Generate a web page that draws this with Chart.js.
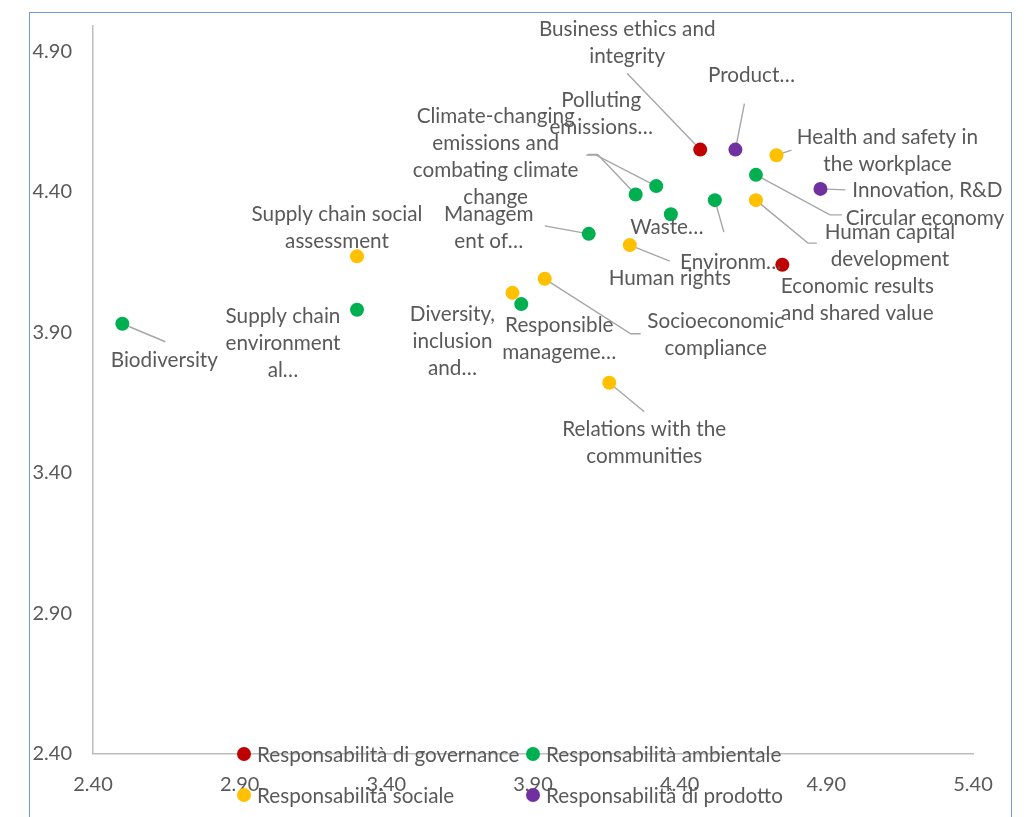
<!DOCTYPE html>
<html>
<head>
<meta charset="utf-8">
<script src="https://cdn.jsdelivr.net/npm/chart.js@4.4.1/dist/chart.umd.min.js"></script>
<style>
  html, body { margin: 0; padding: 0; background: #ffffff; }
  #wrap { position: relative; width: 1028px; height: 817px; overflow: hidden; }
  #c { position: absolute; left: 0; top: 0; }
  #frame { position: absolute; left: 29px; top: 12px; width: 983px; height: 840px;
           border: 1px solid #6f9bd2; box-sizing: border-box; pointer-events: none; }
</style>
</head>
<body>
<div id="wrap">
  <canvas id="c" width="1028" height="817"></canvas>
  <div id="frame"></div>
</div>
<script>
// ---- Series: topic names (line breaks as shown), x and y scores ----
const governanceNames = ['Business ethics and\nintegrity', 'Economic results\nand shared value'];
const governanceX = [4.47, 4.75];
const governanceY = [4.55, 4.14];

const environmentNames = [
  'Biodiversity', 'Supply chain\nenvironment\nal…', 'Responsible\nmanageme…', 'Managem\nent of…',
  'Climate-changing\nemissions and\ncombating climate\nchange', 'Polluting\nemissions…',
  'Waste…', 'Environm…', 'Circular economy'
];
const environmentX = [2.50, 3.30, 3.86, 4.09, 4.25, 4.32, 4.37, 4.52, 4.66];
const environmentY = [3.93, 3.98, 4.00, 4.25, 4.39, 4.42, 4.32, 4.37, 4.46];

const socialNames = [
  'Health and safety in\nthe workplace', 'Human capital\ndevelopment', 'Human rights',
  'Supply chain social\nassessment', 'Socioeconomic\ncompliance', 'Diversity,\ninclusion\nand…',
  'Relations with the\ncommunities'
];
const socialX = [4.73, 4.66, 4.23, 3.30, 3.94, 3.83, 4.16];
const socialY = [4.53, 4.37, 4.21, 4.17, 4.09, 4.04, 3.72];

const productNames = ['Product…', 'Innovation, R&D'];
const productX = [4.59, 4.88];
const productY = [4.55, 4.41];

const seriesLabels = ['Responsabilità di governance', 'Responsabilità ambientale',
                      'Responsabilità sociale', 'Responsabilità di prodotto'];

const xTicks = [2.40, 2.90, 3.40, 3.90, 4.40, 4.90, 5.40];
const yTicks = [2.40, 2.90, 3.40, 3.90, 4.40, 4.90];

// ---- Callout placement, in pixels relative to each marker ----
// text: centre of first line; leader: polyline from the marker outwards
const governanceCallouts = [
  { text: [-73, -120], leader: [[-73, -76]] },
  { text: [75, 22] }
];
const environmentCallouts = [
  { text: [42, 37], leader: [[43, 18]] },
  { text: [-74, 7] },
  { text: [38, 21] },
  { text: [-100, -20], leader: [[-22, -4], [-44, -8]] },
  { text: [-140, -78], leader: [[-38, -40], [-48, -40]] },
  { text: [-55, -86], leader: [[-60, -31], [-70, -31]] },
  { text: [-4, 13] },
  { text: [16, 62], leader: [[9, 32]] },
  { text: [169, 43], leader: [[74, 40], [86, 40]] }
];
const socialCallouts = [
  { text: [111, -18], leader: [[15, -5]] },
  { text: [134, 32], leader: [[52, 43], [61, 43]] },
  { text: [40, 33], leader: [[40, 16]] },
  { text: [-20, -42] },
  { text: [171, 43], leader: [[86, 55], [96, 55]] },
  { text: [-60, 21] },
  { text: [35, 47], leader: [[35, 29]] }
];
const productCallouts = [
  { text: [16, -74], leader: [[9, -46]] },
  { text: [107, 1], leader: [[25, 1]] }
];

const FONT = 'Lato';
const TEXT_COLOR = '#595959';
const LABEL_SIZE = 20.7;
const LINE_H = 27;

function points(xs, ys) { return xs.map((x, i) => ({ x: x, y: ys[i] })); }

const datasets = [
  { label: seriesLabels[0], data: points(governanceX, governanceY), names: governanceNames,
    callouts: governanceCallouts, backgroundColor: '#c00000' },
  { label: seriesLabels[1], data: points(environmentX, environmentY), names: environmentNames,
    callouts: environmentCallouts, backgroundColor: '#00b050' },
  { label: seriesLabels[2], data: points(socialX, socialY), names: socialNames,
    callouts: socialCallouts, backgroundColor: '#ffc000' },
  { label: seriesLabels[3], data: points(productX, productY), names: productNames,
    callouts: productCallouts, backgroundColor: '#7030a0' }
].map(d => Object.assign(d, { pointRadius: 7, pointHoverRadius: 7, borderWidth: 0 }));

// Leader lines under the markers, wrapped labels above them
const calloutPlugin = {
  id: 'callouts',
  beforeDatasetsDraw(chart) {
    const ctx = chart.ctx;
    ctx.save();
    ctx.strokeStyle = '#a6a6a6';
    ctx.lineWidth = 1.4;
    chart.data.datasets.forEach((ds, di) => {
      chart.getDatasetMeta(di).data.forEach((pt, i) => {
        const c = ds.callouts[i];
        if (!c || !c.leader) return;
        ctx.beginPath();
        ctx.moveTo(pt.x, pt.y);
        c.leader.forEach(p => ctx.lineTo(pt.x + p[0], pt.y + p[1]));
        ctx.stroke();
      });
    });
    ctx.restore();
  },
  afterDatasetsDraw(chart) {
    const ctx = chart.ctx;
    ctx.save();
    ctx.fillStyle = TEXT_COLOR;
    ctx.font = LABEL_SIZE + 'px ' + FONT;
    ctx.textAlign = 'center';
    ctx.textBaseline = 'middle';
    chart.data.datasets.forEach((ds, di) => {
      chart.getDatasetMeta(di).data.forEach((pt, i) => {
        const c = ds.callouts[i];
        const lines = ds.names[i].split('\n');
        lines.forEach((ln, k) => {
          ctx.fillText(ln, pt.x + c.text[0], pt.y + c.text[1] + k * LINE_H);
        });
      });
    });
    ctx.restore();
  }
};

// Two-row legend laid over the foot of the plot
const overlayLegend = {
  id: 'overlayLegend',
  afterDraw(chart) {
    const ctx = chart.ctx;
    const cols = [244, 533];
    const rows = [754, 795];
    ctx.save();
    ctx.font = LABEL_SIZE + 'px ' + FONT;
    ctx.textAlign = 'left';
    ctx.textBaseline = 'middle';
    chart.data.datasets.forEach((ds, i) => {
      const x = cols[i % 2], y = rows[Math.floor(i / 2)];
      ctx.fillStyle = ds.backgroundColor;
      ctx.beginPath();
      ctx.arc(x, y, 7, 0, Math.PI * 2);
      ctx.fill();
      ctx.fillStyle = TEXT_COLOR;
      ctx.fillText(ds.label, x + 13, y + 1);
    });
    ctx.restore();
  }
};

function build() {
  new Chart(document.getElementById('c'), {
    type: 'scatter',
    data: { datasets: datasets },
    plugins: [calloutPlugin, overlayLegend],
    options: {
      responsive: false,
      animation: false,
      devicePixelRatio: 1,
      layout: { padding: { left: 0, top: 26, right: 55, bottom: 0 } },
      plugins: { legend: { display: false }, tooltip: { enabled: false } },
      scales: {
        x: {
          type: 'linear', min: 2.4, max: 5.4,
          afterBuildTicks: axis => { axis.ticks = xTicks.map(v => ({ value: v })); },
          afterFit: axis => { axis.height = 63.5; axis.paddingLeft = 0; axis.paddingRight = 0; },
          grid: { display: false, drawTicks: false },
          border: { display: true, color: '#bdbdbd', width: 1.5 },
          ticks: { padding: 19, color: TEXT_COLOR, font: { family: FONT, size: 20 },
                   maxRotation: 0, autoSkip: false, callback: v => Number(v).toFixed(2) }
        },
        y: {
          type: 'linear', min: 2.4, max: 4.99,
          afterBuildTicks: axis => { axis.ticks = yTicks.map(v => ({ value: v })); },
          afterFit: axis => { axis.width = 93; axis.paddingTop = 0; axis.paddingBottom = 0; },
          grid: { display: false, drawTicks: false },
          border: { display: true, color: '#bdbdbd', width: 1.5 },
          ticks: { padding: 21, color: TEXT_COLOR, font: { family: FONT, size: 20 },
                   autoSkip: false, callback: v => Number(v).toFixed(2) }
        }
      }
    }
  });
}

if (document.fonts && document.fonts.load) {
  document.fonts.load('20px ' + FONT).then(build, build);
} else {
  build();
}
</script>
</body>
</html>
